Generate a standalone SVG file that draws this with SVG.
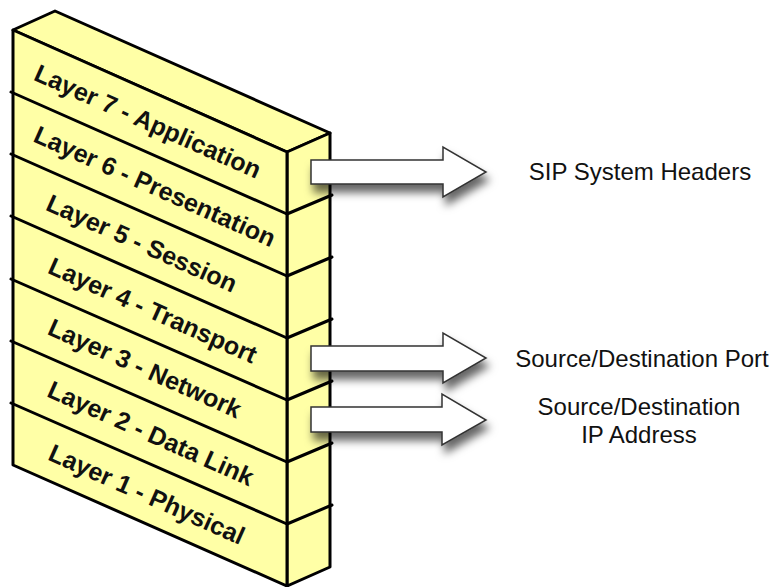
<svg xmlns="http://www.w3.org/2000/svg" width="772" height="587" viewBox="0 0 772 587">
<style>
.face{fill:#FFFFA6;stroke:#000;stroke-width:3;stroke-linejoin:round}
.ln{stroke:#000;stroke-width:3;fill:none;stroke-linecap:round}
.lbl{font-family:"Liberation Sans",Arial,sans-serif;font-weight:bold;font-size:25px;fill:#111;text-anchor:middle}
.arrow{fill:#fff;stroke:#333;stroke-width:1.5;stroke-linejoin:miter}
.note{font-family:"Liberation Sans",Arial,sans-serif;font-size:24px;fill:#111;text-anchor:middle}
</style>
<defs>
<filter id="sh" x="-20%" y="-40%" width="150%" height="200%">
<feDropShadow dx="3" dy="8" stdDeviation="4" flood-color="#000" flood-opacity="0.6"/>
</filter>
</defs>
<rect width="772" height="587" fill="#fff"/>
<g id="stack">
<polygon class="face" points="13,30 55,11 330,133 287,152"/>
<polygon class="face" points="287,152 330,133 330,567 287,586"/>
<polygon class="face" points="13,30 287,152 287,586 13,465"/>
<g class="ln">
<line x1="11" y1="92" x2="287" y2="214"/>
<line x1="11" y1="154" x2="287" y2="276"/>
<line x1="11" y1="216" x2="287" y2="338"/>
<line x1="11" y1="279" x2="287" y2="400"/>
<line x1="11" y1="341" x2="287" y2="462"/>
<line x1="11" y1="403" x2="287" y2="524"/>
<line x1="287" y1="214" x2="332" y2="195"/>
<line x1="287" y1="276" x2="332" y2="257"/>
<line x1="287" y1="338" x2="332" y2="319"/>
<line x1="287" y1="400" x2="332" y2="381"/>
<line x1="287" y1="462" x2="332" y2="443"/>
<line x1="287" y1="524" x2="332" y2="505"/>
</g>
</g>
<g id="layer7"><text class="lbl" transform="translate(148,121) rotate(24)" y="9">Layer 7 - Application</text></g>
<g id="layer6"><text class="lbl" transform="translate(155,186) rotate(24)" y="9">Layer 6 - Presentation</text></g>
<g id="layer5"><text class="lbl" transform="translate(142,243) rotate(24)" y="9">Layer 5 - Session</text></g>
<g id="layer4"><text class="lbl" transform="translate(153,310) rotate(24)" y="9">Layer 4 - Transport</text></g>
<g id="layer3"><text class="lbl" transform="translate(145,368) rotate(24)" y="9">Layer 3 - Network</text></g>
<g id="layer2"><text class="lbl" transform="translate(151,433) rotate(24)" y="9">Layer 2 - Data Link</text></g>
<g id="layer1"><text class="lbl" transform="translate(147,494) rotate(24)" y="9">Layer 1 - Physical</text></g>
<g id="connectors" filter="url(#sh)">
<polygon class="arrow" points="311,160 443,160 443,147 486,172 443,197 443,184 311,184"/>
<polygon class="arrow" points="311,346 443,346 443,333 486,358 443,383 443,371 311,371"/>
<polygon class="arrow" points="311,407 442,407 442,394 486,420 442,445 442,432 311,432"/>
</g>
<g id="sip"><text class="note" x="640" y="180">SIP System Headers</text></g>
<g id="port"><text class="note" x="642" y="367">Source/Destination Port</text></g>
<g id="ip"><text class="note" x="639" y="415">Source/Destination<tspan x="639" y="443">IP Address</tspan></text></g>
</svg>
